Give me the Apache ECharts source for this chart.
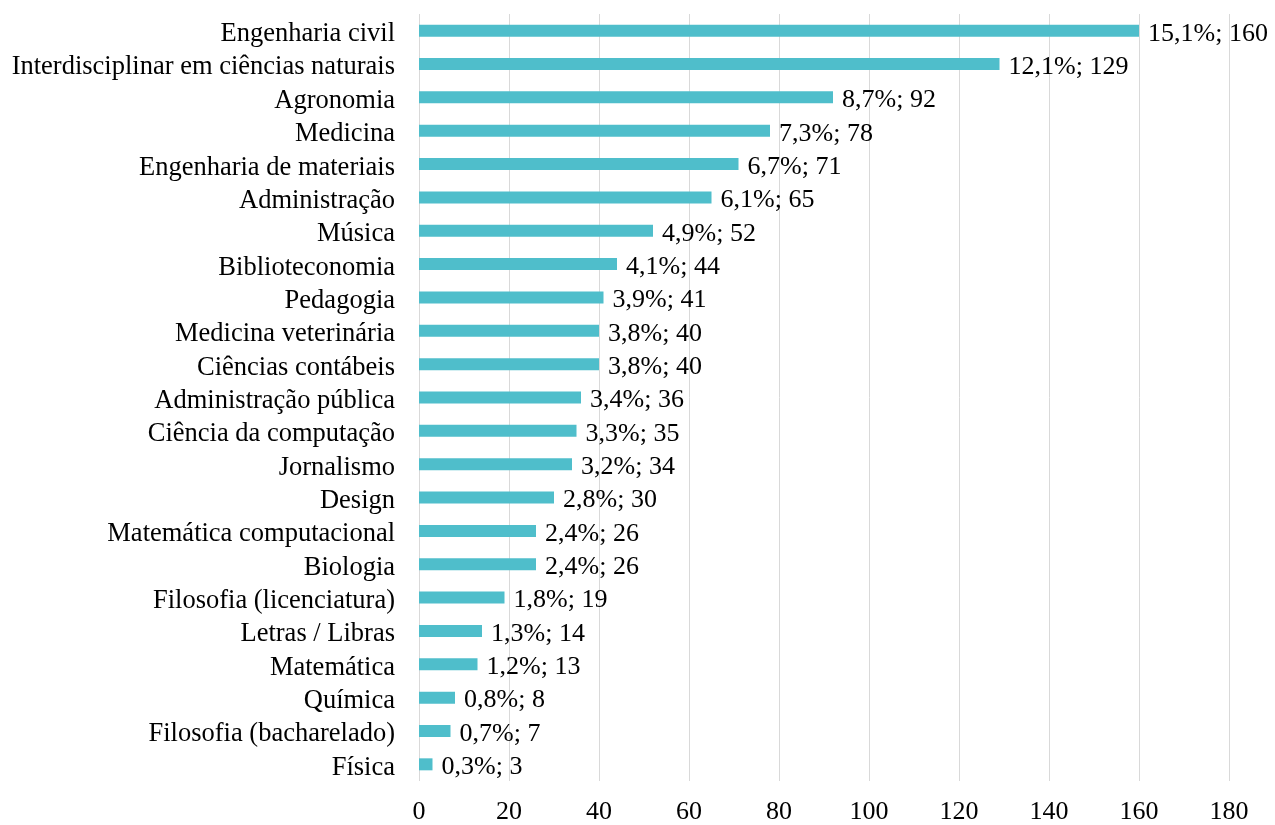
<!DOCTYPE html>
<html>
<head>
<meta charset="utf-8">
<script src="https://cdn.jsdelivr.net/npm/echarts@6/dist/echarts.min.js"></script>
<style>
  html, body { margin: 0; padding: 0; background: #fff; }
  #chart { width: 1275px; height: 825px; }
</style>
</head>
<body>
<div id="chart"></div>
<script>
// cursos, de cima para baixo
const cursos = [
	'Engenharia civil', 'Interdisciplinar em ciências naturais', 'Agronomia', 'Medicina',
	'Engenharia de materiais', 'Administração', 'Música', 'Biblioteconomia', 'Pedagogia',
	'Medicina veterinária', 'Ciências contábeis', 'Administração pública', 'Ciência da computação',
	'Jornalismo', 'Design', 'Matemática computacional', 'Biologia', 'Filosofia (licenciatura)',
	'Letras / Libras', 'Matemática', 'Química', 'Filosofia (bacharelado)', 'Física'
];
const totais = [160, 129, 92, 78, 71, 65, 52, 44, 41, 40, 40, 36, 35, 34, 30, 26, 26, 19, 14, 13, 8, 7, 3];
const percentuais = ['15,1%', '12,1%', '8,7%', '7,3%', '6,7%', '6,1%', '4,9%', '4,1%', '3,9%', '3,8%', '3,8%',
	'3,4%', '3,3%', '3,2%', '2,8%', '2,4%', '2,4%', '1,8%', '1,3%', '1,2%', '0,8%', '0,7%', '0,3%'];
const ticksX = [0, 20, 40, 60, 80, 100, 120, 140, 160, 180];

let chart = echarts.init(document.getElementById('chart'));
const fonte = '"Liberation Serif", "Times New Roman", serif';

let option = {
	animation: false,
	textStyle: { fontFamily: fonte },
	grid: { left: 419, right: 46, top: 14, bottom: 43, containLabel: false },
	xAxis: {
		type: 'value',
		min: ticksX[0],
		max: ticksX[ticksX.length - 1],
		interval: 20,
		axisLine: { show: false },
		axisTick: { show: false },
		splitLine: { lineStyle: { color: '#d9d9d9', width: 1 } },
		axisLabel: { color: '#000', fontSize: 26, fontFamily: fonte, margin: 18 }
	},
	yAxis: {
		type: 'category',
		inverse: true,
		data: cursos,
		axisLine: { show: false },
		axisTick: { show: false },
		axisLabel: {
			margin: 24,
			interval: 0,
			formatter: (v)=> '{c|' + v + '}',
			rich: {
				c: { color: '#000', fontSize: 26.5, fontFamily: fonte, padding: [7, 0, 0, 0] }
			}
		}
	},
	series: [{
		type: 'bar',
		data: totais,
		barWidth: 12,
		itemStyle: { color: '#4fbecb' },
		label: {
			show: true,
			position: 'right',
			distance: 9,
			offset: [0, 3],
			color: '#000',
			fontSize: 26,
			fontFamily: fonte,
			formatter: (p)=> percentuais[p.dataIndex] + '; ' + p.value
		}
	}]
};
chart.setOption(option);
</script>
</body>
</html>
